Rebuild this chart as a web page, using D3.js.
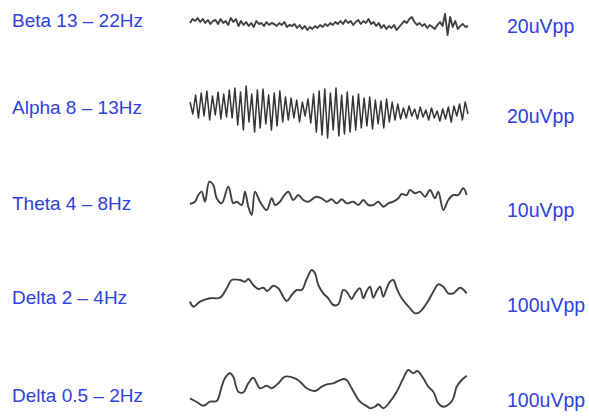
<!DOCTYPE html>
<html><head><meta charset="utf-8">
<script src="https://cdn.jsdelivr.net/npm/d3@7"></script>
<style>html,body{margin:0;padding:0;background:#fff;}svg{display:block;}</style>
</head><body>
<script>
// ---- data ----
const bandLabels = ["Beta 13 \u2013 22Hz", "Alpha 8 \u2013 13Hz", "Theta 4 \u2013 8Hz", "Delta 2 \u2013 4Hz", "Delta 0.5 \u2013 2Hz"];
const scaleLabels = ["20uVpp", "20uVpp", "10uVpp", "100uVpp", "100uVpp"];

// Beta: regularly sampled trace (relative amplitude)
const betaValues = [0,4,2,5,1,4,0,3,-1,2, 3,-1,4,0,2,-2,5,1,4,-3, 2,-2,1,-3,0,-4,2,-1,0,-3,
  1,-2,0,-1,-3,0,-2,1,-4,-2, -3,-1,-5,-2,-6,-3,-7,-4,-6,-3, -5,-2,-4,-1,-3,0,-2,1,-1,2,
  -1,3,0,2,-2,1,3,-1,2,0, 4,-1,1,-3,0,-5,-2,-6,-3,-5, -2,-7,-4,-1,2,0,4,6,1,-2,
  0,-3,-1,-5,-2,-4,-6,-2,1,-3, 9,-12,6,-4,2,-6,-3,-1,-4,-3];

// Alpha: regularly sampled trace
const alphaValues = [8,-4,15,-8,17,-6,19,-10,14,-5,18,-9,16,-7,20,-8,
  22,-15,18,-20,24,-12,16,-22,20,-18,21,-14,15,-20,17,-16,19,-12,13,-10,12,
  -8,10,-12,8,-6,11,-13,
  16,-22,19,-25,21,-28,17,-20,22,-26,15,-24,18,-22,14,-20,16,-18,12,-16,13,-19,
  10,-14,9,-18,11,-12,8,-10,6,-9,
  2,-8,4,-6,1,-9,3,-7,0,-10,2,-8,-1,-11,1,-9,3,-12,4,-6,
  6,-10,8,-4];

// Theta: time / value pairs
const thetaTime = [2,7,10.3,13.7,17,21.3,25.3,28.7,33.7,40.3,45.3,48.7,53.7,57,60.3,63.7,67,72,78.7,83.7,87,92,95.3,100.3,105.3,110.3,115.3,120.3,125.3,128.7,133.7,138.7,143.7,148.7,153.7,158.7,165.3,170.3,175.3,180.3,185.3,190.3,195.3,200.3,205.3,210.3,213.7,218.7,222,227,232,237,242,247,250.3,255.3,260.3,265.3,270.3,275.3,278.7];
const thetaValues = [-7,-4.7,2,5.3,-4.7,15.3,12,-1.3,-6.3,10.3,-6.3,-4.7,-8,5.3,-9.7,-18,5.3,-4.7,-13,-1.3,-8,-4.7,0.3,5.3,-3,2,-3,-4.7,-1.3,0.3,-1.3,-4.7,-2.3,-6.3,-2.3,-6.3,-4.7,-8,-3,-8,-8,-4.7,-9.7,-6.3,-4.7,-1.3,3,2,7,3.7,5.3,0.3,7,-1.3,5.3,-13,-3,2,2,8.7,2];

// Delta 2-4 Hz
const delta24Time = [2,5.3,12,22,32,38.7,43.7,52,57,60.3,65.3,70.3,75.3,79.3,85.3,90.3,98.7,103.7,108.7,113.7,118.7,123.7,127,130.3,135.3,140.3,145.3,150.3,155.3,158.7,163.7,167,172,175.3,178.7,182,185.3,188.7,192,195.3,198.7,202,205.3,208.7,213.7,222,227,232,238.7,245.3,250.3,255.3,260.3,265.3,272,278.7];
const delta24Values = [-9.7,-14.7,-9.7,-6.3,-5.7,3.7,12,12,10.3,13,7,3,4.3,1,6.3,3.7,-9,-3,2,2,13,22,18.7,7,-1.3,-6.3,-13,-12.3,2,0.3,-7,-1.3,3.7,-6.3,1,5.3,-5.7,1,5.3,-4.7,3.7,10.3,12,3.7,-6.3,-16.3,-21.3,-19.7,-11.3,0.3,7.7,5.3,-1.3,-1.3,4.3,-1.3];

// Delta 0.5-2 Hz
const delta052Time = [2,8.7,15.3,22,28.7,33.7,37,42,45.3,50.3,55.3,60.3,65.3,72,78.7,83.7,90.3,97,107,112,118.7,127,133.7,138.7,145.3,155.3,158.7,163.7,172,178.7,182,187,190.3,195.3,202,208.7,215.3,220.3,225.3,229.3,235.3,240.3,245.3,250.3,255.3,262,265.3,268.7,273.7,278.7];
const delta052Values = [-8.3,-12,-15.7,-11.7,-11,3.3,12,16.7,13.3,-1.7,-2.3,6.7,12.3,1.7,4.3,1.7,6.7,13.3,11.7,8.3,1.7,-1,3.3,5.7,6.7,11,10,1.7,-11.7,-16,-18.3,-16.7,-14.3,-18.3,-11.7,-1.7,11.7,20,16.7,19,11.7,3.3,-1.7,-13.3,-16.7,-13.3,-8.3,3.3,10,14.3];

// ---- build series ----
const betaStep = 278 / (betaValues.length - 1);
const alphaStep = 278 / (alphaValues.length - 1);
const series = [
  betaValues.map((v, i) => ({t: 2 + i * betaStep, v})),
  alphaValues.map((v, i) => ({t: 2 + i * alphaStep, v})),
  thetaTime.map((t, i) => ({t, v: thetaValues[i]})),
  delta24Time.map((t, i) => ({t, v: delta24Values[i]})),
  delta052Time.map((t, i) => ({t, v: delta052Values[i]}))
];

// ---- layout ----
const W = 589, H = 416;
const rowCenters = [23, 110, 197, 292, 390];
const leftBaselines = [26.5, 113.5, 209.5, 304, 402];
const rightBaselines = [33, 123, 217, 312, 407];

const svg = d3.select("body").append("svg").attr("width", W).attr("height", H);
svg.append("rect").attr("width", W).attr("height", H).attr("fill", "#fff");

const x = d3.scaleLinear().domain([0, 280]).range([188, 468]);

series.forEach((data, k) => {
  const y = d3.scaleLinear().domain([-30, 30]).range([rowCenters[k] + 30, rowCenters[k] - 30]);
  const line = d3.line().x(d => x(d.t)).y(d => y(d.v))
    .curve(k >= 2 ? d3.curveCatmullRom.alpha(0.5) : d3.curveLinear);
  svg.append("path").datum(data)
    .attr("d", line)
    .attr("fill", "none")
    .attr("stroke", k === 1 ? "#333" : "#404040")
    .attr("stroke-width", k === 1 ? 1.5 : 1.9)
    .attr("stroke-linejoin", "round");
});

svg.selectAll("text.band").data(bandLabels).enter().append("text")
  .attr("class", "band")
  .attr("x", 12).attr("y", (d, i) => leftBaselines[i])
  .attr("font-family", "Liberation Sans, Arial, sans-serif")
  .attr("font-size", 19).attr("fill", "#2f40df")
  .text(d => d);

svg.selectAll("text.scale").data(scaleLabels).enter().append("text")
  .attr("class", "scale")
  .attr("x", 507).attr("y", (d, i) => rightBaselines[i])
  .attr("font-family", "Liberation Sans, Arial, sans-serif")
  .attr("font-size", 19.5).attr("fill", "#2f40df")
  .text(d => d);
</script>
</body></html>
